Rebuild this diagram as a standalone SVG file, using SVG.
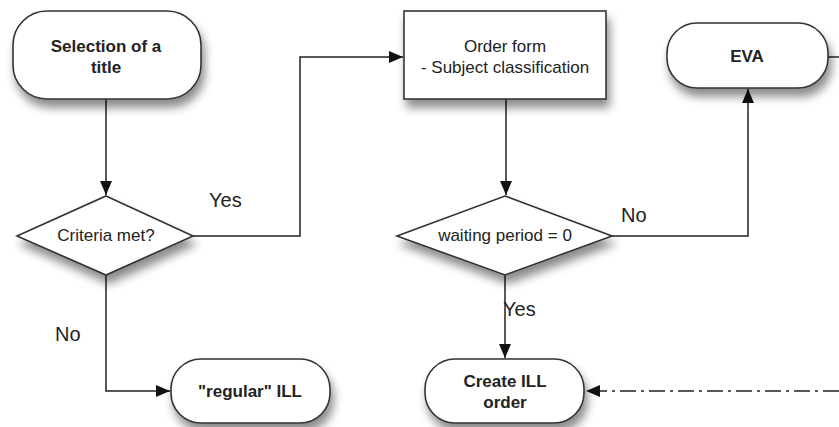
<svg xmlns="http://www.w3.org/2000/svg" width="839" height="427" viewBox="0 0 839 427">
<defs>
<filter id="sh" x="-20%" y="-20%" width="150%" height="170%">
<feDropShadow dx="3" dy="8" stdDeviation="5" flood-color="#000" flood-opacity="0.45"/>
</filter>
<marker id="ah" viewBox="0 0 14 12" refX="14" refY="6" markerWidth="14" markerHeight="12" markerUnits="userSpaceOnUse" orient="auto">
<path d="M0,0 L14,6 L0,12 z" fill="#111"/>
</marker>
</defs>
<style>
.n{fill:#fff;stroke:#333;stroke-width:1.6}
.c{fill:none;stroke:#222;stroke-width:1.5}
.b{font-family:"Liberation Sans",Arial,sans-serif;font-size:17px;font-weight:bold;fill:#222;text-anchor:middle}
.t{font-family:"Liberation Sans",Arial,sans-serif;font-size:17px;fill:#222;text-anchor:middle}
.l{font-family:"Liberation Sans",Arial,sans-serif;font-size:20px;fill:#222}
</style>
<rect width="839" height="427" fill="#fff"/>
<g id="connectors">
<path class="c" d="M106,99 V195" marker-end="url(#ah)"/>
<path class="c" d="M193,236 H300 V57 H403" marker-end="url(#ah)"/>
<path class="c" d="M506,99 V195" marker-end="url(#ah)"/>
<path class="c" d="M612,236 H748 V89" marker-end="url(#ah)"/>
<path class="c" d="M828,57 H839"/>
<path class="c" d="M106,275 V391 H170" marker-end="url(#ah)"/>
<path class="c" d="M505,275 V358" marker-end="url(#ah)"/>
<path class="c" d="M839,391 H586" stroke-dasharray="16,5,3,5" marker-end="url(#ah)"/>
<text class="l" x="209" y="207">Yes</text>
<text class="l" x="621" y="222">No</text>
<text class="l" x="55" y="341">No</text>
<text class="l" x="503" y="316">Yes</text>
</g>
<g id="selection">
<rect class="n" x="13" y="11" width="188" height="88" rx="34" filter="url(#sh)"/>
<text class="b" x="106" y="52">Selection of a</text>
<text class="b" x="106" y="73">title</text>
</g>
<g id="orderform">
<rect class="n" x="404" y="11" width="202" height="88" filter="url(#sh)"/>
<text class="t" x="505" y="52">Order form</text>
<text class="t" x="505" y="73">- Subject classification</text>
</g>
<g id="eva">
<rect class="n" x="667" y="23" width="161" height="65" rx="30" filter="url(#sh)"/>
<text class="b" x="747" y="62">EVA</text>
</g>
<g id="criteria">
<polygon class="n" points="106,196 193,236 106,275 17,236" filter="url(#sh)"/>
<text class="t" x="106" y="241">Criteria met?</text>
</g>
<g id="waiting">
<polygon class="n" points="505,196 612,236 505,275 397,236" filter="url(#sh)"/>
<text class="t" x="505" y="241">waiting period = 0</text>
</g>
<g id="regular">
<rect class="n" x="171" y="359" width="159" height="64" rx="30" filter="url(#sh)"/>
<text class="b" x="250" y="397">"regular" ILL</text>
</g>
<g id="create">
<rect class="n" x="425" y="359" width="159" height="64" rx="30" filter="url(#sh)"/>
<text class="b" x="505" y="387">Create ILL</text>
<text class="b" x="505" y="408">order</text>
</g>
</svg>
